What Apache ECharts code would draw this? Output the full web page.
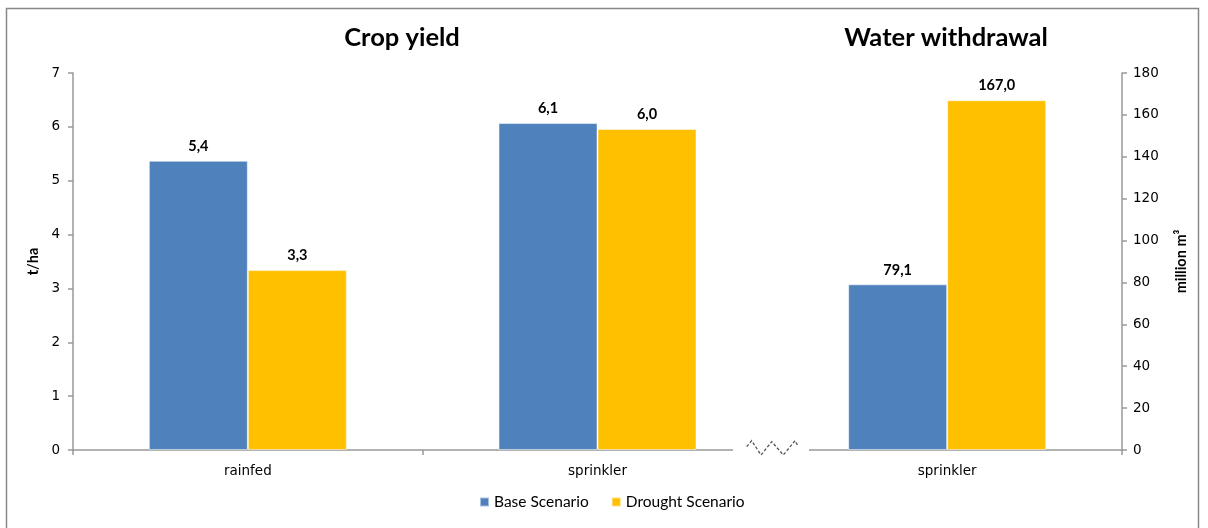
<!DOCTYPE html>
<html><head><meta charset="utf-8">
<script src="https://cdn.jsdelivr.net/npm/echarts@6/dist/echarts.min.js"></script>
<style>html,body{margin:0;padding:0;background:#fff}#c{width:1208px;height:528px}</style>
</head><body><div id="c"></div>
<script>
var categories = ['rainfed', 'sprinkler', 'sprinkler'];
var seriesNames = ['Base Scenario', 'Drought Scenario'];
var yieldBase = [5.37, 6.07, '-'];
var yieldDrought = [3.34, 5.96, '-'];
var waterBase = ['-', '-', 79.1];
var waterDrought = ['-', '-', 167.0];
var leftTicks = {min: 0, max: 7, interval: 1};
var rightTicks = {min: 0, max: 180, interval: 20};
var titles = ['Crop yield', 'Water withdrawal'];
var axisNames = ['t/ha', 'million m\u00b3'];

var colors = ['#4F81BD', '#FFC000'];
var labelFont = 'Lato, "Open Sans", sans-serif';
var tickFont = '"DejaVu Sans", Verdana, sans-serif';

function fmt(p) { return Number(p.value).toFixed(1).replace('.', ','); }

function bar(name, data, xi, yi, color) {
  return {
    name: name, type: 'bar', data: data, xAxisIndex: xi, yAxisIndex: yi,
    barWidth: 99, barGap: '0%',
    itemStyle: {color: color, borderColor: 'rgba(255,255,255,0.5)', borderWidth: 1},
    label: {show: true, position: 'top', distance: 7, formatter: fmt,
      fontFamily: labelFont, fontWeight: 'bold', fontSize: 14.5, color: '#000'}
  };
}

var chart = echarts.init(document.getElementById('c'));
chart.setOption({
  animation: false,
  color: colors,
  title: [
    {text: titles[0], left: 397, top: 20, textAlign: 'center',
      textStyle: {fontFamily: labelFont, fontWeight: 'bold', fontSize: 25.5, color: '#000'}},
    {text: titles[1], left: 941, top: 20, textAlign: 'center',
      textStyle: {fontFamily: labelFont, fontWeight: 'bold', fontSize: 25.5, color: '#000'}}
  ],
  legend: {
    data: seriesNames, bottom: 13, left: 474, icon: 'rect', itemWidth: 9, itemHeight: 9,
    itemGap: 22, textStyle: {fontFamily: labelFont, fontSize: 15.5, color: '#000'}
  },
  grid: {left: 73, right: 86, top: 73, bottom: 78},
  xAxis: [
    {type: 'category', data: categories, boundaryGap: true,
      axisLine: {lineStyle: {color: '#999', width: 1.5}},
      axisTick: {show: true, length: 5, alignWithLabel: false, lineStyle: {color: '#999', width: 1.5}},
      axisLabel: {margin: 14, fontFamily: tickFont, fontSize: 13.5, color: '#000'}},
    {type: 'category', data: categories, show: false}
  ],
  yAxis: [
    {type: 'value', min: leftTicks.min, max: leftTicks.max, interval: leftTicks.interval,
      name: axisNames[0], nameLocation: 'middle', nameRotate: 90, nameGap: 30,
      nameTextStyle: {fontFamily: labelFont, fontWeight: 'bold', fontSize: 14.5, color: '#000'},
      axisLine: {show: true, lineStyle: {color: '#999', width: 1.5}},
      axisTick: {show: true, length: 5, lineStyle: {color: '#999', width: 1.5}},
      axisLabel: {margin: 13, fontFamily: tickFont, fontSize: 13.5, color: '#000'},
      splitLine: {show: false}},
    {type: 'value', min: rightTicks.min, max: rightTicks.max, interval: rightTicks.interval,
      position: 'right',
      name: axisNames[1], nameLocation: 'middle', nameRotate: 90, nameGap: 52,
      nameTextStyle: {fontFamily: labelFont, fontWeight: 'bold', fontSize: 14.5, color: '#000'},
      axisLine: {show: true, lineStyle: {color: '#999', width: 1.5}},
      axisTick: {show: true, length: 5, lineStyle: {color: '#999', width: 1.5}},
      axisLabel: {margin: 11, fontFamily: tickFont, fontSize: 13.5, color: '#000'},
      splitLine: {show: false}}
  ],
  series: [
    bar(seriesNames[0], yieldBase, 0, 0, colors[0]),
    bar(seriesNames[1], yieldDrought, 0, 0, colors[1]),
    bar(seriesNames[0], waterBase, 1, 1, colors[0]),
    bar(seriesNames[1], waterDrought, 1, 1, colors[1])
  ],
  graphic: [
    {type: 'rect', silent: true, z: 100, shape: {x: 6.5, y: 8.5, width: 1192, height: 540},
      style: {fill: 'none', stroke: '#888', lineWidth: 1.5}},
    {type: 'rect', silent: true, z: 100, shape: {x: 733, y: 446, width: 76, height: 12},
      style: {fill: '#fff'}},
    {type: 'polyline', silent: true, z: 101,
      shape: {points: [[746.7, 446.7], [751.7, 440.7], [761, 455], [771.7, 441.7], [783.3, 455], [795, 440.7], [798.3, 446.7]]},
      style: {stroke: '#555', lineWidth: 1.3, lineDash: [3, 2], fill: 'none'}}
  ]
});
</script></body></html>
